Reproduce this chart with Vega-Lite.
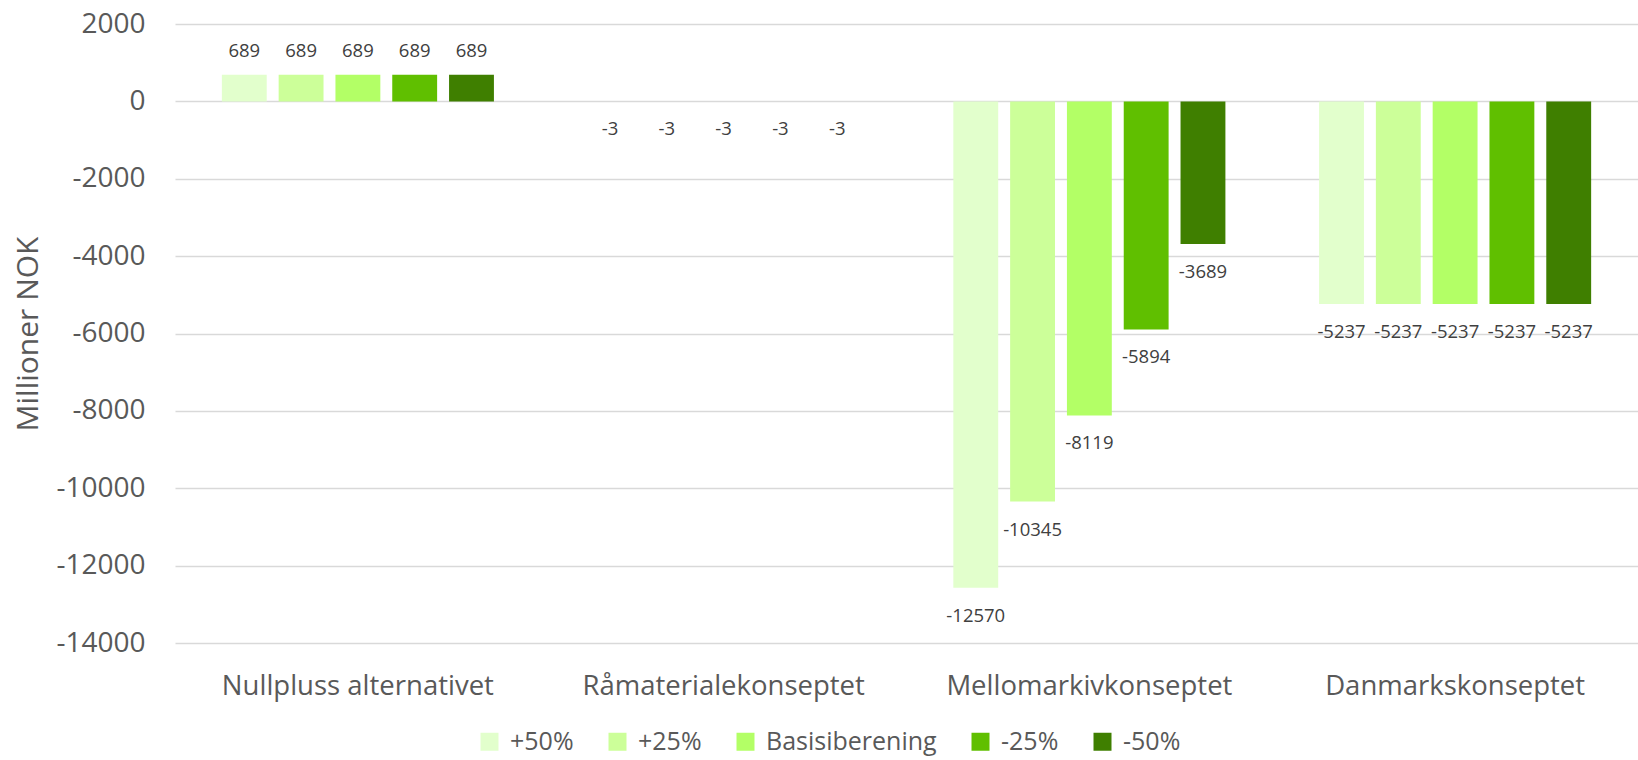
{
  "$schema": "https://vega.github.io/schema/vega-lite/v6.json",
  "autosize": {"type": "none"},
  "width": 1463,
  "height": 619,
  "padding": {"left": 175, "top": 24, "right": 0, "bottom": 117},
  "background": "white",
  "config": {
    "font": "Open Sans",
    "view": {"stroke": null},
    "locale": {"number": {"decimal": ".", "thousands": "", "grouping": [3], "currency": ["", ""], "minus": "-"}}
  },
  "data": {
    "values": [
      {"konsept": "Nullpluss alternativet", "scenario": "+50%", "value": 689},
      {"konsept": "Nullpluss alternativet", "scenario": "+25%", "value": 689},
      {"konsept": "Nullpluss alternativet", "scenario": "Basisiberening", "value": 689},
      {"konsept": "Nullpluss alternativet", "scenario": "-25%", "value": 689},
      {"konsept": "Nullpluss alternativet", "scenario": "-50%", "value": 689},
      {"konsept": "Råmaterialekonseptet", "scenario": "+50%", "value": -3},
      {"konsept": "Råmaterialekonseptet", "scenario": "+25%", "value": -3},
      {"konsept": "Råmaterialekonseptet", "scenario": "Basisiberening", "value": -3},
      {"konsept": "Råmaterialekonseptet", "scenario": "-25%", "value": -3},
      {"konsept": "Råmaterialekonseptet", "scenario": "-50%", "value": -3},
      {"konsept": "Mellomarkivkonseptet", "scenario": "+50%", "value": -12570},
      {"konsept": "Mellomarkivkonseptet", "scenario": "+25%", "value": -10345},
      {"konsept": "Mellomarkivkonseptet", "scenario": "Basisiberening", "value": -8119},
      {"konsept": "Mellomarkivkonseptet", "scenario": "-25%", "value": -5894},
      {"konsept": "Mellomarkivkonseptet", "scenario": "-50%", "value": -3689},
      {"konsept": "Danmarkskonseptet", "scenario": "+50%", "value": -5237},
      {"konsept": "Danmarkskonseptet", "scenario": "+25%", "value": -5237},
      {"konsept": "Danmarkskonseptet", "scenario": "Basisiberening", "value": -5237},
      {"konsept": "Danmarkskonseptet", "scenario": "-25%", "value": -5237},
      {"konsept": "Danmarkskonseptet", "scenario": "-50%", "value": -5237}
    ]
  },
  "encoding": {
    "x": {
      "field": "konsept",
      "type": "nominal",
      "sort": ["Nullpluss alternativet", "Råmaterialekonseptet", "Mellomarkivkonseptet", "Danmarkskonseptet"],
      "scale": {"paddingInner": 0.2235, "paddingOuter": 0.1118},
      "axis": {
        "title": null,
        "labelAngle": 0,
        "labelFontSize": 27.5,
        "labelColor": "#595959",
        "labelPadding": 29,
        "labelLimit": 600,
        "ticks": false,
        "tickSize": 0,
        "domain": false,
        "grid": false
      }
    },
    "xOffset": {
      "field": "scenario",
      "type": "nominal",
      "sort": ["+50%", "+25%", "Basisiberening", "-25%", "-50%"],
      "scale": {"paddingInner": 0.21, "paddingOuter": 0.105}
    },
    "y": {
      "field": "value",
      "type": "quantitative",
      "scale": {"domain": [-14000, 2000], "nice": false},
      "axis": {
        "title": "Millioner NOK",
        "titleFontSize": 30,
        "titleFontWeight": "normal",
        "titleColor": "#595959",
        "titleX": -147,
        "titleY": 309.5,
        "titleAngle": -90,
        "titleAlign": "center",
        "titleBaseline": "middle",
        "values": [-14000, -12000, -10000, -8000, -6000, -4000, -2000, 0, 2000],
        "format": "d",
        "labelFontSize": 28,
        "labelColor": "#595959",
        "labelPadding": 30,
        "ticks": false,
        "tickSize": 0,
        "domain": false,
        "grid": true,
        "gridColor": "#d9d9d9",
        "gridWidth": 1.5
      }
    }
  },
  "layer": [
    {
      "mark": {"type": "bar"},
      "encoding": {
        "color": {
          "field": "scenario",
          "type": "nominal",
          "sort": ["+50%", "+25%", "Basisiberening", "-25%", "-50%"],
          "scale": {
            "domain": ["+50%", "+25%", "Basisiberening", "-25%", "-50%"],
            "range": ["#e2ffcc", "#ccff99", "#b3ff66", "#60bf00", "#3f7f00"]
          },
          "legend": {
            "title": null,
            "orient": "none",
            "direction": "horizontal",
            "legendX": 302,
            "legendY": 705,
            "symbolType": "square",
            "symbolSize": 324,
            "symbolStrokeWidth": 0,
            "labelFontSize": 25,
            "labelColor": "#595959",
            "labelOffset": 8,
            "columnPadding": 31,
            "labelLimit": 400
          }
        }
      }
    },
    {
      "transform": [{"filter": "datum.value >= 0"}],
      "mark": {"type": "text", "baseline": "alphabetic", "dy": -18, "fontSize": 18.5, "color": "#404040"},
      "encoding": {"text": {"field": "value", "type": "quantitative", "format": "d"}}
    },
    {
      "transform": [{"filter": "datum.value < 0"}],
      "mark": {"type": "text", "baseline": "alphabetic", "dy": 34, "fontSize": 18.5, "color": "#404040"},
      "encoding": {"text": {"field": "value", "type": "quantitative", "format": "d"}}
    }
  ]
}
